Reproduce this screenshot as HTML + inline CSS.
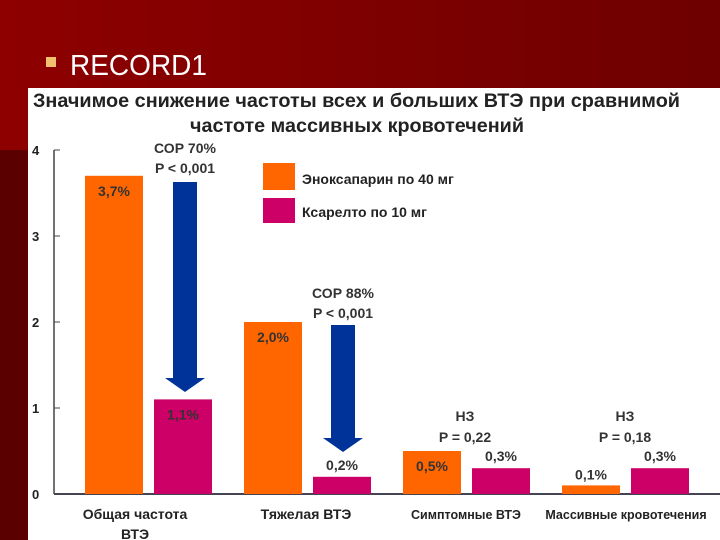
<!DOCTYPE html>
<html><head><meta charset="utf-8"><style>
body{margin:0;width:720px;height:540px;overflow:hidden;background:#800000;font-family:"Liberation Sans","DejaVu Sans",sans-serif}
svg{display:block}
</style></head><body>
<svg width="720" height="540" xmlns="http://www.w3.org/2000/svg">
<defs><linearGradient id="bg" x1="0" x2="1"><stop offset="0" stop-color="#8e0000"/><stop offset="1" stop-color="#6e0000"/></linearGradient></defs>
<rect width="720" height="540" fill="url(#bg)"/>
<rect x="0" y="150" width="28" height="390" fill="#5a0000"/>
<rect x="46" y="57" width="10" height="10" fill="#f2c170"/>
<text x="70" y="75" font-size="29" fill="#fff" textLength="137" lengthAdjust="spacingAndGlyphs">RECORD1</text>
<rect x="28" y="88" width="692" height="452" fill="#fff"/>
<text x="33" y="107" font-size="19" font-weight="bold" fill="#222" textLength="647" lengthAdjust="spacingAndGlyphs">Значимое снижение частоты всех и больших ВТЭ при сравнимой</text>
<text x="190" y="132" font-size="19" font-weight="bold" fill="#222" textLength="334" lengthAdjust="spacingAndGlyphs">частоте массивных кровотечений</text>
<g id="chart"></g>
<g>
<rect x="263" y="163" width="32" height="27" fill="#ff6600"/>
<text x="302" y="184" font-size="14" font-weight="bold" fill="#222">Эноксапарин по 40 мг</text>
<rect x="263" y="198" width="32" height="25" fill="#cc0066"/>
<text x="302" y="217" font-size="14" font-weight="bold" fill="#222">Ксарелто по 10 мг</text>
</g>
<g font-size="14" font-weight="bold" fill="#333" text-anchor="middle">
<text x="185" y="153">СОР 70%</text><text x="185" y="173">P &lt; 0,001</text>
<text x="343" y="298">СОР 88%</text><text x="343" y="318">P &lt; 0,001</text>
<text x="465" y="421">НЗ</text><text x="465" y="442">P = 0,22</text>
<text x="625" y="421">НЗ</text><text x="625" y="442">P = 0,18</text>
</g>
<g fill="#003399">
<path d="M173 182 H197 V378 H205 L185 392 L165 378 H173 Z"/>
<path d="M331 325 H355 V438 H363 L343 452 L323 438 H331 Z"/>
</g>
</svg>
<script>
const categories=["Общая частота ВТЭ","Тяжелая ВТЭ","Симптомные ВТЭ","Массивные кровотечения"];
const enoxValues=[3.7,2.0,0.5,0.1];
const xareltoValues=[1.1,0.2,0.3,0.3];
const enoxLabels=["3,7%","2,0%","0,5%","0,1%"];
const xareltoLabels=["1,1%","0,2%","0,3%","0,3%"];
const yTicks=[0,1,2,3,4];
const NS="http://www.w3.org/2000/svg";
const g=document.getElementById('chart');
const y=v=>494-v*86;
const gx=i=>85+i*159;
function mk(t,a){const e=document.createElementNS(NS,t);for(const k in a)e.setAttribute(k,a[k]);g.appendChild(e);return e;}
const ax=mk('line',{x1:54,y1:150,x2:54,y2:494,stroke:'#444','stroke-width':1.5});


const bl=mk('line',{x1:54,y1:494,x2:720,y2:494,stroke:'#445','stroke-width':2});


yTicks.forEach(v=>{
 const l=mk('line',{x1:54,y1:y(v),x2:60,y2:y(v),stroke:'#444'});
 
 
 const t=mk('text',{x:32,y:y(v)+5,'font-size':13,'font-weight':'bold',fill:'#222'});t.textContent=v;
 
 
});
categories.forEach((c,i)=>{
 const x=gx(i);
 const b1=mk('rect',{x:x,y:y(enoxValues[i]),width:58,height:enoxValues[i]*86,fill:'#ff6600'});
 
 
 const b2=mk('rect',{x:x+69,y:y(xareltoValues[i]),width:58,height:xareltoValues[i]*86,fill:'#cc0066'});
 
 
 const inside1=enoxValues[i]>0.3;
 const t1=mk('text',{x:x+29,y:inside1?y(enoxValues[i])+20:y(enoxValues[i])-6,'font-size':14,'font-weight':'bold',fill:'#333','text-anchor':'middle'});t1.textContent=enoxLabels[i];
 
 
 const inside2=xareltoValues[i]>0.8;
 const t2=mk('text',{x:x+98,y:inside2?y(xareltoValues[i])+20:y(xareltoValues[i])-7,'font-size':14,'font-weight':'bold',fill:'#333','text-anchor':'middle'});t2.textContent=xareltoLabels[i];
 
 
});
const catX=[135,306,466,626];
const lines=[["Общая частота","ВТЭ"],["Тяжелая ВТЭ"],["Симптомные ВТЭ"],["Массивные кровотечения"]];
lines.forEach((ls,i)=>ls.forEach((s,j)=>{
 const t=mk('text',{x:catX[i],y:519+j*20,'font-size':i>1?12.5:14,'font-weight':'bold',fill:'#222','text-anchor':'middle'});t.textContent=s;
 
 
}));
</script>
</body></html>
